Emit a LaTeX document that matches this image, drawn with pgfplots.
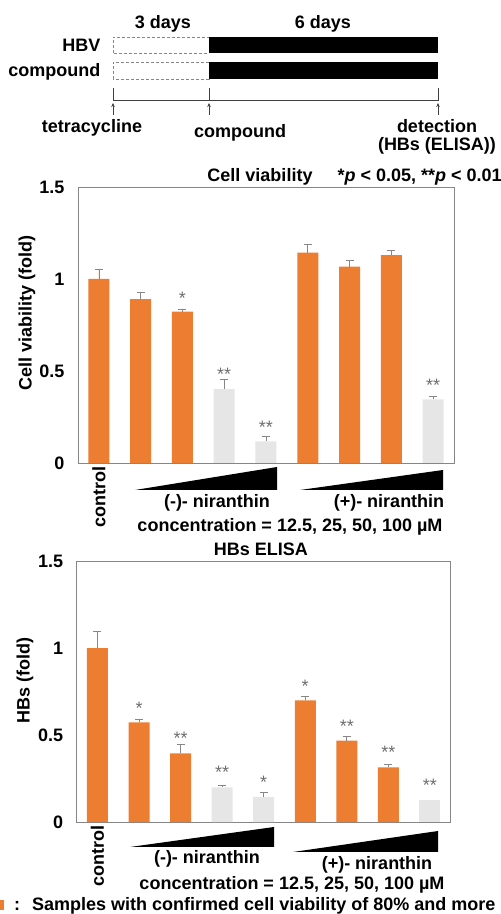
\documentclass[border=0pt]{standalone}
\usepackage{fontspec}
\setmainfont{Liberation Sans}
\usepackage{pgfplots}
\pgfplotsset{compat=1.18}
\usetikzlibrary{arrows.meta}

\definecolor{barorange}{HTML}{ED7D31}
\definecolor{bargray}{HTML}{E7E6E6}
\definecolor{framegray}{HTML}{868686}
\definecolor{stargray}{HTML}{6E6E6E}
\newcommand\bigf{\fontsize{18}{21}\selectfont\bfseries}
\newcommand\starf{\fontsize{18}{21}\selectfont\mdseries}

\pgfplotsset{
  assay/.style={
    scale only axis,
    xmin=0.5, xmax=9.5, ymin=0, ymax=1.5,
    axis line style={framegray, line width=0.9pt},
    major tick length=0pt,
    ytick={0,0.5,1,1.5}, yticklabels={0,0.5,1,1.5},
    xtick={1}, xticklabels={control},
    yticklabel style={font=\bigf, xshift=-10pt},
    xticklabel style={font=\bigf, rotate=90, anchor=east},
    ylabel style={font=\bigf},
  },
  bars/.style={ybar, bar width=21pt, bar shift=0pt, fill=#1, draw=none},
  errs/.style={error bars/.cd, y dir=plus, y explicit,
    error bar style={draw=framegray, line width=0.7pt},
    error mark options={draw=framegray, rotate=90, mark size=4pt, line width=0.7pt}},
  stars/.style={draw=none, mark=none, nodes near coords, point meta=explicit symbolic,
    every node near coord/.append style={font=\starf, text=stargray, anchor=base, inner sep=0pt}},
}

\begin{document}
\begin{tikzpicture}
\useasboundingbox (0,0) rectangle (501pt,914pt);

% schedule
\node[font=\bigf, anchor=base] at (163pt,885pt) {3 days};
\node[font=\bigf, anchor=base] at (323pt,885pt) {6 days};
\node[font=\bigf, anchor=base east] at (104pt,862pt) {HBV};
\node[font=\bigf, anchor=base east] at (104pt,837pt) {compound};
\draw[framegray, densely dashed, line width=0.6pt] (113pt,861pt) rectangle (209pt,877pt);
\fill (209pt,861pt) rectangle (438pt,877pt);
\draw[framegray, densely dashed, line width=0.6pt] (113pt,835pt) rectangle (209pt,852pt);
\fill (209pt,835pt) rectangle (438pt,852pt);
\draw[black!75, line width=0.6pt] (113pt,826pt) -- (113pt,814pt) -- (438pt,814pt) -- (438pt,826pt);
\draw[black!75, line width=0.6pt] (209pt,826pt) -- (209pt,814pt);
\foreach \ax in {113,209,438}
  \draw[black!75, line width=0.6pt, -{Stealth[length=4pt,width=3.5pt]}] (\ax pt,799pt) -- (\ax pt,811pt);
\node[font=\bigf, anchor=base] at (92pt,781pt) {tetracycline};
\node[font=\bigf, anchor=base] at (240pt,776pt) {compound};
\node[font=\bigf, anchor=base] at (437pt,781pt) {detection};
\node[font=\bigf, anchor=base] at (437pt,763pt) {(HBs (ELISA))};

% cell viability
\node[font=\bigf, anchor=base] at (260pt,732pt) {Cell viability};
\node[font=\bigf, anchor=base west] at (334pt,732pt) {*\textit{p} < 0.05, **\textit{p} < 0.01};
\begin{axis}[assay, at={(78pt,451pt)}, anchor=south west,
  width=376pt, height=276pt,
  ylabel={Cell viability (fold)},
  ylabel style={at={(axis description cs:-0.136,0.543)}, anchor=center}]
  \addplot[bars=barorange, errs] table[x=x, y=y, y error=e] {
    x y e
    1 1.000 0.050
    2 0.890 0.040
    3 0.822 0.011
    6 1.143 0.047
    7 1.067 0.033
    8 1.130 0.026
  };
  \addplot[bars=bargray, errs] table[x=x, y=y, y error=e] {
    x y e
    4 0.402 0.051
    5 0.118 0.027
    9 0.346 0.014
  };
  \addplot[stars] table[x=x, y=y, meta=s] {
    x y s
    3 0.863 *
    4 0.449 **
    5 0.163 **
    9 0.391 **
  };
\end{axis}
\fill (135pt,424pt) -- (277pt,424pt) -- (277pt,447pt) -- cycle;
\fill (300pt,424pt) -- (443pt,424pt) -- (443pt,444pt) -- cycle;
\node[font=\bigf, anchor=base] at (217pt,406pt) {(-)- niranthin};
\node[font=\bigf, anchor=base] at (389pt,406pt) {(+)- niranthin};
\node[font=\bigf, anchor=base] at (290pt,382pt) {concentration = 12.5, 25, 50, 100 µM};

% HBs ELISA
\node[font=\bigf, anchor=base] at (261pt,358pt) {HBs ELISA};
\begin{axis}[assay, at={(76.7pt,92pt)}, anchor=south west,
  width=374pt, height=261pt,
  ylabel={HBs (fold)},
  ylabel style={at={(axis description cs:-0.138,0.544)}, anchor=center}]
  \addplot[bars=barorange, errs] table[x=x, y=y, y error=e] {
    x y e
    1 1.000 0.094
    2 0.573 0.019
    3 0.395 0.053
    6 0.699 0.021
    7 0.467 0.023
    8 0.314 0.015
  };
  \addplot[bars=bargray, errs] table[x=x, y=y, y error=e] {
    x y e
    4 0.199 0.012
    5 0.144 0.028
  };
  \addplot[bars=bargray] table[x=x, y=y] {
    x y
    9 0.125
  };
  \addplot[stars] table[x=x, y=y, meta=s] {
    x y s
    2 0.618 *
    3 0.444 **
    4 0.248 **
    5 0.191 *
    6 0.746 *
    7 0.515 **
    8 0.363 **
    9 0.174 **
  };
\end{axis}
\fill (130pt,67pt) -- (274pt,67pt) -- (274pt,87pt) -- cycle;
\fill (293pt,62pt) -- (438pt,62pt) -- (438pt,83pt) -- cycle;
\node[font=\bigf, anchor=base] at (207pt,50pt) {(-)- niranthin};
\node[font=\bigf, anchor=base] at (377pt,45pt) {(+)- niranthin};
\node[font=\bigf, anchor=base] at (292pt,24pt) {concentration = 12.5, 25, 50, 100 µM};

% note
\fill[barorange] (-6pt,4pt) rectangle (3.5pt,14pt);
\node[font=\bigf, anchor=base] at (17pt,3pt) {:};
\node[font=\bigf, anchor=base west, inner sep=0pt] at (32pt,3pt) {Samples with confirmed cell viability of 80\% and more};
\end{tikzpicture}
\end{document}
